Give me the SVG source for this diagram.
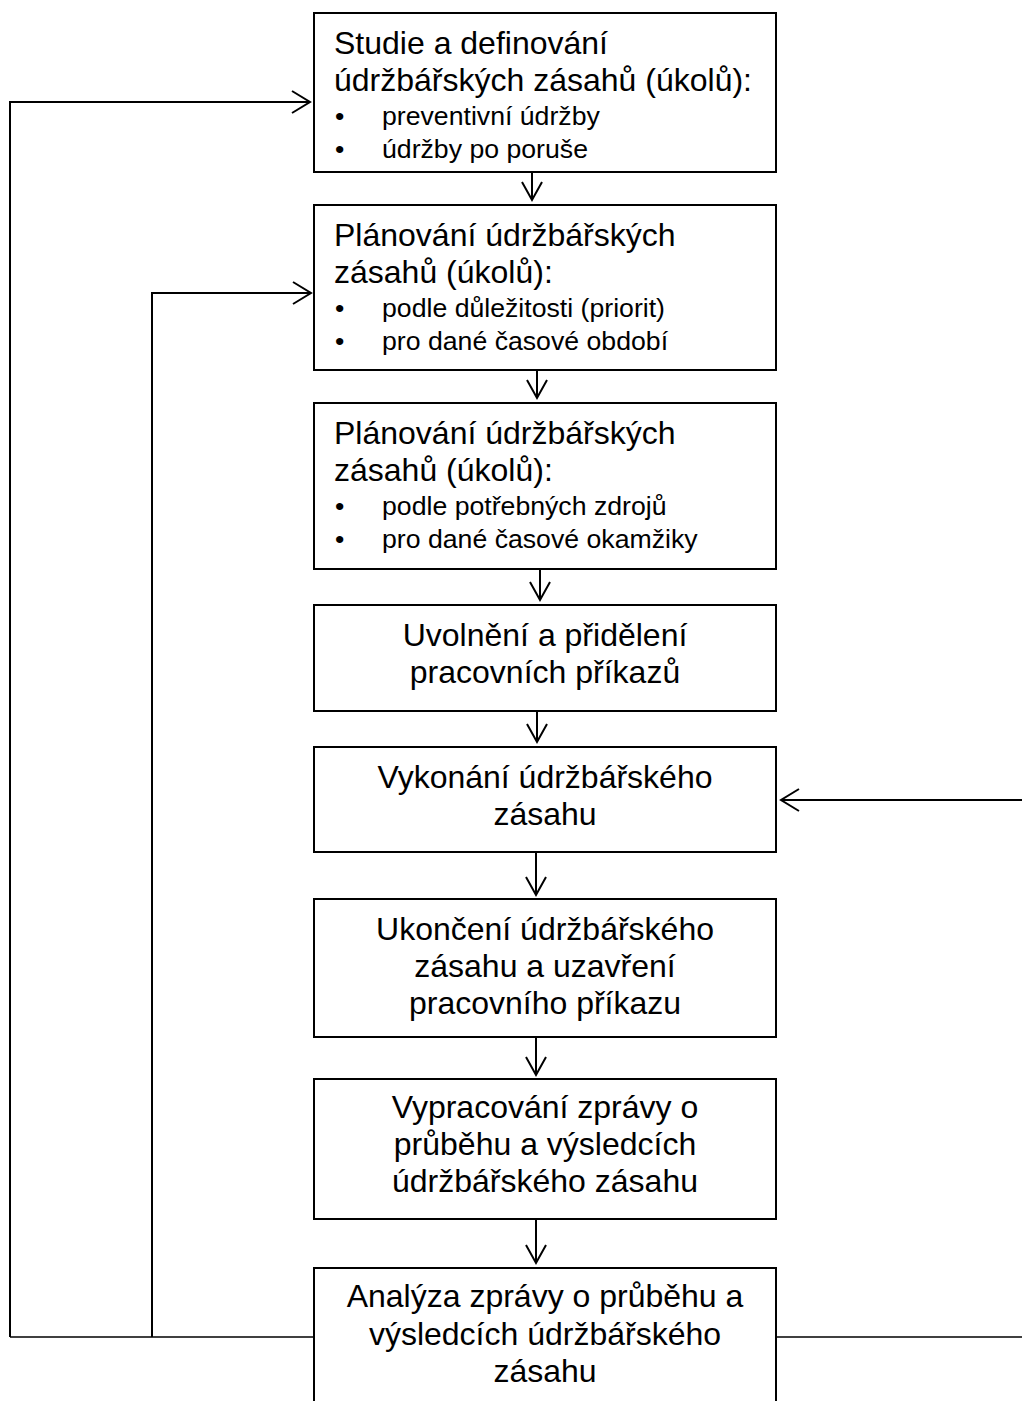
<svg xmlns="http://www.w3.org/2000/svg" width="1022" height="1401" viewBox="0 0 1022 1401">
<defs>
<style>
.box{fill:#fff;stroke:#000;stroke-width:2}
.t{font-family:"Liberation Sans",Arial,sans-serif;font-size:32px;fill:#000}
.b{font-family:"Liberation Sans",Arial,sans-serif;font-size:26.67px;fill:#000}
.c{text-anchor:middle}
.ln{fill:none;stroke:#000;stroke-width:2}
.thin{fill:none;stroke:#000;stroke-width:1.6}
</style>
</defs>
<rect width="1022" height="1401" fill="#fff"/>
<g id="connectors">
<polyline class="ln" points="10,1337 10,102 309,102"/>
<polyline class="ln" points="292,91 310,102 292,113"/>
<polyline class="ln" points="152,1337 152,293 310,293"/>
<polyline class="ln" points="293,282 311,293 293,304"/>
<line class="thin" x1="10" y1="1337" x2="314" y2="1337"/>
<line class="thin" x1="776" y1="1337" x2="1022" y2="1337"/>
<line class="ln" x1="1022" y1="800" x2="781" y2="800"/>
<polyline class="ln" points="799,789 781,800 799,811"/>
<line class="ln" x1="532" y1="172" x2="532" y2="199"/>
<polyline class="ln" points="522,182 532,200 542,182"/>
<line class="ln" x1="537" y1="370" x2="537" y2="397"/>
<polyline class="ln" points="527,380 537,398 547,380"/>
<line class="ln" x1="540" y1="569" x2="540" y2="599"/>
<polyline class="ln" points="530,582 540,600 550,582"/>
<line class="ln" x1="537" y1="711" x2="537" y2="741"/>
<polyline class="ln" points="527,724 537,742 547,724"/>
<line class="ln" x1="536" y1="852" x2="536" y2="894"/>
<polyline class="ln" points="526,877 536,895 546,877"/>
<line class="ln" x1="536" y1="1037" x2="536" y2="1074"/>
<polyline class="ln" points="526,1057 536,1075 546,1057"/>
<line class="ln" x1="536" y1="1219" x2="536" y2="1262"/>
<polyline class="ln" points="526,1245 536,1263 546,1245"/>
</g>
<g id="n1">
<rect class="box" x="314" y="13" width="462" height="159"/>
<text class="t" x="334" y="54">Studie a definování</text>
<text class="t" x="334" y="91">údržbářských zásahů (úkolů):</text>
<text class="b" x="335" y="125">•</text><text class="b" x="382" y="125">preventivní údržby</text>
<text class="b" x="335" y="158">•</text><text class="b" x="382" y="158">údržby po poruše</text>
</g>
<g id="n2">
<rect class="box" x="314" y="205" width="462" height="165"/>
<text class="t" x="334" y="246">Plánování údržbářských</text>
<text class="t" x="334" y="283">zásahů (úkolů):</text>
<text class="b" x="335" y="317">•</text><text class="b" x="382" y="317">podle důležitosti (priorit)</text>
<text class="b" x="335" y="350">•</text><text class="b" x="382" y="350">pro dané časové období</text>
</g>
<g id="n3">
<rect class="box" x="314" y="403" width="462" height="166"/>
<text class="t" x="334" y="444">Plánování údržbářských</text>
<text class="t" x="334" y="481">zásahů (úkolů):</text>
<text class="b" x="335" y="515">•</text><text class="b" x="382" y="515">podle potřebných zdrojů</text>
<text class="b" x="335" y="548">•</text><text class="b" x="382" y="548">pro dané časové okamžiky</text>
</g>
<g id="n4">
<rect class="box" x="314" y="605" width="462" height="106"/>
<text class="t c" x="545" y="646">Uvolnění a přidělení</text>
<text class="t c" x="545" y="683">pracovních příkazů</text>
</g>
<g id="n5">
<rect class="box" x="314" y="747" width="462" height="105"/>
<text class="t c" x="545" y="788">Vykonání údržbářského</text>
<text class="t c" x="545" y="825">zásahu</text>
</g>
<g id="n6">
<rect class="box" x="314" y="899" width="462" height="138"/>
<text class="t c" x="545" y="940">Ukončení údržbářského</text>
<text class="t c" x="545" y="977">zásahu a uzavření</text>
<text class="t c" x="545" y="1014">pracovního příkazu</text>
</g>
<g id="n7">
<rect class="box" x="314" y="1079" width="462" height="140"/>
<text class="t c" x="545" y="1118">Vypracování zprávy o</text>
<text class="t c" x="545" y="1155">průběhu a výsledcích</text>
<text class="t c" x="545" y="1192">údržbářského zásahu</text>
</g>
<g id="n8">
<rect class="box" x="314" y="1268" width="462" height="150"/>
<text class="t c" x="545" y="1307">Analýza zprávy o průběhu a</text>
<text class="t c" x="545" y="1345">výsledcích údržbářského</text>
<text class="t c" x="545" y="1382">zásahu</text>
</g>
</svg>
